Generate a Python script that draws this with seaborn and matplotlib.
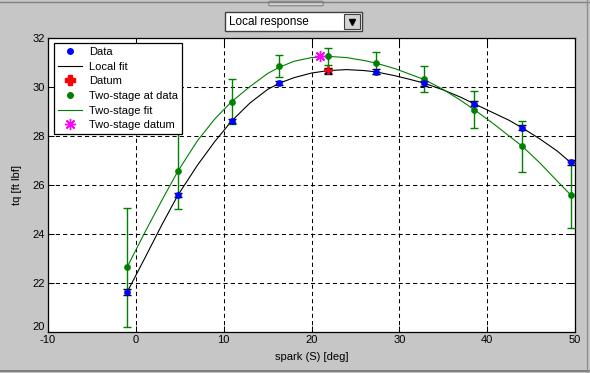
import matplotlib
matplotlib.use('Agg')
import matplotlib.pyplot as plt
import seaborn as sns
from matplotlib.lines import Line2D
from matplotlib.patches import Rectangle, FancyBboxPatch
from matplotlib.transforms import ScaledTranslation

plt.rcParams['font.family'] = ['Liberation Sans', 'DejaVu Sans']
plt.rcParams['font.size'] = 8
plt.rcParams['axes.unicode_minus'] = False

# measured points
spark = [-1.0, 4.8, 10.9, 16.3, 21.9, 27.3, 32.8, 38.5, 44.0, 49.5]
tq_data = [21.62, 25.59, 28.61, 30.15, 30.65, 30.62, 30.16, 29.32, 28.33, 26.92]
tq_data_err = [0.12, 0.07, 0.08, 0.08, 0.1, 0.1, 0.1, 0.1, 0.1, 0.1]
tq_two = [22.64, 26.57, 29.40, 30.87, 31.25, 30.98, 30.31, 29.08, 27.58, 25.6]
tq_two_err = [2.42, 1.56, 0.93, 0.45, 0.34, 0.44, 0.53, 0.75, 1.03, 1.35]

# fitted curves
fit_x = [-1, 1, 3, 4.8, 7, 9, 10.9, 13, 15, 16.3, 18, 20, 21.9, 24, 26, 27.3,
         29.5, 31, 32.8, 35, 37, 38.5, 40.5, 42.5, 44, 46, 48, 49.5]
local_fit = [21.62, 23.0, 24.4, 25.59, 26.8, 27.78, 28.61, 29.35, 29.9, 30.15,
             30.38, 30.57, 30.67, 30.71, 30.67, 30.62, 30.46, 30.33, 30.16,
             29.88, 29.58, 29.32, 28.98, 28.64, 28.33, 27.88, 27.38, 26.92]
two_fit = [22.64, 24.05, 25.4, 26.57, 27.8, 28.7, 29.4, 30.02, 30.55, 30.8,
           31.05, 31.2, 31.25, 31.2, 31.08, 30.98, 30.75, 30.55, 30.31, 29.9,
           29.45, 29.08, 28.56, 28.0, 27.58, 26.9, 26.15, 25.6]

datum_x, datum_y = [21.9], [30.68]
two_datum_x, two_datum_y = [21.0], [31.25]

W, H = 590, 373
bg = '#c6c6c6'
green = '#008000'


def fx(px):
    return px / W


def fy(py):
    return 1 - py / H


fig = plt.figure(figsize=(W / 100, H / 100), dpi=100, facecolor=bg)

# window decorations
fig.add_artist(Line2D([0, 1], [fy(2), fy(2)], color='#808080', lw=1))
fig.add_artist(FancyBboxPatch((fx(270), fy(5)), fx(52), 3 / H,
                              boxstyle='round,pad=0.002', fc='#d4d4d4',
                              ec='#808080', lw=0.8))
fig.add_artist(Line2D([0, 1], [fy(371), fy(371)], color='#707070', lw=1.2))
fig.add_artist(Line2D([fx(587), fx(587)], [0, 1], color='#909090', lw=1))

# dropdown
fig.add_artist(Rectangle((fx(225), fy(31)), fx(137), 19 / H, fc='white',
                         ec='#404040', lw=1))
fig.add_artist(Rectangle((fx(344), fy(29)), fx(16), 15 / H, fc='#d4d4d4',
                         ec='#404040', lw=0.8))
fig.add_artist(Line2D([fx(352)], [fy(22)], marker='v', color='black', ms=4, ls='none'))
fig.text(fx(229), fy(21.5), 'Local response', fontsize=8.5, va='center', ha='left')

ax = fig.add_axes([fx(48), 41 / H, fx(527), 294 / H])
ax.set_facecolor('white')

sns.lineplot(x=fit_x, y=local_fit, color='black', lw=0.8, ax=ax, sort=False)
sns.lineplot(x=fit_x, y=two_fit, color=green, lw=0.8, ax=ax, sort=False)

ax.errorbar(spark, tq_two, yerr=tq_two_err, fmt='none', ecolor=green,
            elinewidth=1, capsize=3, capthick=1, zorder=3)
ax.errorbar(spark, tq_data, yerr=tq_data_err, fmt='none', ecolor='black',
            elinewidth=1, capsize=3, capthick=1, zorder=3)
sns.scatterplot(x=spark, y=tq_two, color=green, s=20, edgecolor=green,
                ax=ax, zorder=4)
sns.scatterplot(x=spark, y=tq_data, color='blue', s=20, edgecolor='blue',
                ax=ax, zorder=4)
ax.errorbar(datum_x, datum_y, yerr=[0.1], fmt='none', ecolor='black',
            elinewidth=1, capsize=3, zorder=4)
sns.scatterplot(x=datum_x, y=datum_y, color='red', marker='P', s=38,
                edgecolor='red', ax=ax, zorder=5)
ax.plot(two_datum_x, two_datum_y, marker=(8, 2, 0), color='magenta', ms=8,
        mew=1, ls='none', zorder=5)

ax.set_xlim(-10, 50)
ax.set_ylim(20, 32)
ax.set_xticks(range(-10, 51, 10))
ax.set_yticks(range(20, 33, 2))
ax.grid(True, color='black', linestyle=(0, (4, 3)), linewidth=0.75)
ax.set_axisbelow(True)
ax.tick_params(direction='in', top=True, right=True, length=4, width=0.75,
               labelsize=8, pad=2)
for s in ax.spines.values():
    s.set_color('black')
    s.set_linewidth(0.9)

# lift the bottom y label a little so it clears the "-10"
fig.canvas.draw()
lab = ax.get_yticklabels()[0]
lab.set_transform(lab.get_transform() + ScaledTranslation(0, 4 / 72, fig.dpi_scale_trans))

ax.set_xlabel('spark (S) [deg]', fontsize=8, labelpad=5)
ax.set_ylabel('tq [ft lbf]', fontsize=8, labelpad=8)

handles = [
    Line2D([], [], marker='o', color='blue', ls='none', ms=4),
    Line2D([], [], color='black', lw=0.8),
    Line2D([], [], marker='P', color='red', ls='none', ms=7),
    Line2D([], [], marker='o', color=green, ls='none', ms=4),
    Line2D([], [], color=green, lw=0.8),
    Line2D([], [], marker=(8, 2, 0), color='magenta', ls='none', ms=8),
]
labels = ['Data', 'Local fit', 'Datum', 'Two-stage at data', 'Two-stage fit',
          'Two-stage datum']
leg = ax.legend(handles, labels, loc='upper left', bbox_to_anchor=(0.011, 0.983),
                borderaxespad=0, fontsize=8, handlelength=2.2, handletextpad=0.6,
                labelspacing=0.42, borderpad=0.35, fancybox=False, framealpha=1,
                edgecolor='black')
leg.get_frame().set_linewidth(0.9)

fig.savefig('out.png', dpi=100, facecolor=bg)
